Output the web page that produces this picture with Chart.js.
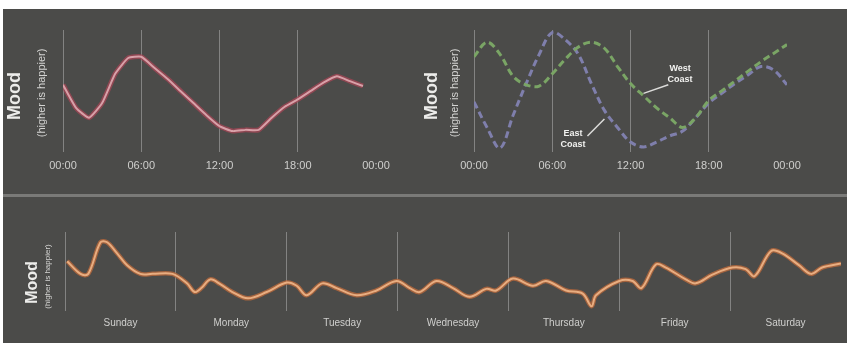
<!DOCTYPE html>
<html>
<head>
<meta charset="utf-8">
<script src="https://cdn.jsdelivr.net/npm/chart.js@4.4.1/dist/chart.umd.min.js"></script>
<style>
    body { margin: 0; width: 847px; height: 343px; background: #ffffff; overflow: hidden; position: relative; }
    #panel { position: absolute; left: 3px; top: 9px; width: 844px; height: 334px; background: #4b4b49; }
    #sep { position: absolute; left: 3px; top: 194px; width: 844px; height: 3px; background: #7a7a78; }
    canvas { position: absolute; }
    #dayChart { left: 3px; top: 9px; }
    #coastChart { left: 420px; top: 9px; }
    #weekChart { left: 3px; top: 197px; }
</style>
</head>
<body>
<div id="panel"></div>
<div id="sep"></div>
<canvas id="dayChart" width="417" height="184"></canvas>
<canvas id="coastChart" width="427" height="184"></canvas>
<canvas id="weekChart" width="844" height="146"></canvas>

<script>
// hours of the day (top panels)
const hours = [0, 1, 2, 3, 4, 5, 6, 7, 8, 9, 10, 11, 12, 13, 14, 15, 16, 17, 18, 19, 20, 21, 22, 23];
const moodAll = [55, 36, 28, 40, 64, 77, 78, 69, 60, 50, 40, 30, 21, 17, 18, 18, 28, 37, 43, 50, 57, 62, 58, 54];

const coastHours = [0, 1, 2, 3, 4, 5, 6, 7, 8, 9, 10, 11, 12, 13, 14, 15, 16, 17, 18, 19, 20, 21, 22, 23, 24];
const westCoast = [78, 90, 80, 62, 55, 54, 64, 76, 86, 90, 85, 70, 56, 46, 36, 28, 20, 28, 42, 50, 58, 66, 74, 81, 88];
const eastCoast = [41, 20, 3, 30, 56, 80, 98, 92, 80, 56, 34, 20, 8, 4, 8, 13, 17, 28, 40, 48, 56, 63, 70, 67, 55];

const hourTicks = [0, 6, 12, 18, 24];
const hourLabels = ['00:00', '06:00', '12:00', '18:00', '00:00'];

// week panel, x in days from sunday 00:00
const weekPos = [0.02, 0.14, 0.21, 0.32, 0.38, 0.47, 0.56, 0.68, 0.79, 0.97,
    1.10, 1.17, 1.23, 1.31, 1.40, 1.51, 1.65, 1.82, 2.00, 2.09,
    2.18, 2.32, 2.45, 2.63, 2.81, 2.99, 3.11, 3.20, 3.35, 3.50,
    3.65, 3.80, 3.89, 4.04, 4.22, 4.34, 4.52, 4.67, 4.75, 4.79,
    5.00, 5.12, 5.20, 5.33, 5.42, 5.60, 5.69, 5.84, 6.02, 6.14,
    6.22, 6.37, 6.47, 6.62, 6.73, 6.83, 7.00];
const weekMood = [63, 47, 47, 87, 87, 73, 58, 47, 47, 47,
    35, 24, 29, 40, 34, 24, 16, 24, 36, 32,
    20, 35, 29, 20, 26, 38, 29, 24, 38, 29,
    18, 28, 26, 41, 32, 38, 26, 22, 6, 20,
    38, 38, 29, 59, 55, 40, 35, 46, 55, 53,
    44, 76, 73, 58, 47, 55, 60];
const days = ['Sunday', 'Monday', 'Tuesday', 'Wednesday', 'Thursday', 'Friday', 'Saturday'];

// labels for the coast lines: [text, hour, mood]
const coastNotes = [['West', 15.8, 68], ['Coast', 15.8, 59], ['East', 7.6, 15], ['Coast', 7.6, 6]];
const coastPointers = [[14.9, 55, 13.0, 48], [8.7, 13, 10.0, 27]];

const fontFam = '"Liberation Sans", Arial, sans-serif';
const gridColor = 'rgba(200, 200, 200, 0.45)';
const tickColor = '#cfcfcd';

function pts(xs, ys) {
    return xs.map((x, i) => ({ x: x, y: ys[i] }));
}

const moodTitle = {
    id: 'moodTitle',
    afterDraw(chart, args, opts) {
        const ctx = chart.ctx;
        const area = chart.chartArea;
        const mid = (area.top + area.bottom) / 2;
        ctx.save();
        ctx.textAlign = 'center';
        ctx.textBaseline = 'middle';
        ctx.fillStyle = '#ececea';
        ctx.translate(opts.x1, mid + opts.dy1);
        ctx.rotate(-Math.PI / 2);
        ctx.font = 'bold ' + opts.size1 + 'px ' + fontFam;
        ctx.fillText('Mood', 0, 0);
        ctx.restore();

        ctx.save();
        ctx.textAlign = 'center';
        ctx.textBaseline = 'middle';
        ctx.fillStyle = '#d4d4d2';
        ctx.translate(opts.x2, mid + opts.dy2);
        ctx.rotate(-Math.PI / 2);
        ctx.font = opts.size2 + 'px ' + fontFam;
        ctx.fillText('(higher is happier)', 0, 0);
        ctx.restore();
    }
};

const coastLabels = {
    id: 'coastLabels',
    afterDatasetsDraw(chart) {
        const ctx = chart.ctx;
        const xs = chart.scales.x;
        const ys = chart.scales.y;
        ctx.save();
        ctx.strokeStyle = '#dcdcda';
        ctx.lineWidth = 1.5;
        coastPointers.forEach(p => {
            ctx.beginPath();
            ctx.moveTo(xs.getPixelForValue(p[0]), ys.getPixelForValue(p[1]));
            ctx.lineTo(xs.getPixelForValue(p[2]), ys.getPixelForValue(p[3]));
            ctx.stroke();
        });
        ctx.fillStyle = '#f2f2f0';
        ctx.font = 'bold 9px ' + fontFam;
        ctx.textAlign = 'center';
        ctx.textBaseline = 'middle';
        coastNotes.forEach(n => {
            ctx.fillText(n[0], xs.getPixelForValue(n[1]), ys.getPixelForValue(n[2]));
        });
        ctx.restore();
    }
};

function hourAxis() {
    return {
        type: 'linear',
        min: 0,
        max: 24,
        afterBuildTicks: scale => { scale.ticks = hourTicks.map(v => ({ value: v })); },
        ticks: {
            color: tickColor,
            font: { family: fontFam, size: 11 },
            padding: 8,
            maxRotation: 0,
            callback: (v) => hourLabels[hourTicks.indexOf(v)]
        },
        grid: {
            drawTicks: false,
            lineWidth: 1,
            color: c => (c.tick && c.tick.value === 24) ? 'rgba(0,0,0,0)' : gridColor
        },
        border: { display: false }
    };
}

function baseOptions(pad, xAxis, titleOpts) {
    return {
        responsive: false,
        animation: false,
        devicePixelRatio: 1,
        layout: { padding: pad },
        elements: { point: { radius: 0 } },
        scales: {
            x: xAxis,
            y: { display: false, min: 0, max: 100 }
        },
        plugins: {
            legend: { display: false },
            tooltip: { enabled: false },
            moodTitle: titleOpts
        }
    };
}

new Chart(document.getElementById('dayChart').getContext('2d'), {
    type: 'line',
    data: {
        datasets: [
            {
                data: pts(hours, moodAll),
                borderColor: '#d8a0a8',
                borderWidth: 2,
                tension: 0.15
            },
            {
                data: pts(hours, moodAll),
                borderColor: 'rgba(165, 70, 85, 0.75)',
                borderWidth: 5,
                tension: 0.15
            }
        ]
    },
    options: baseOptions({ left: 60, right: 44, top: 21, bottom: 12 }, hourAxis(),
        { x1: 12, dy1: 5, size1: 18, x2: 39, dy2: 2, size2: 11 }),
    plugins: [moodTitle]
});

new Chart(document.getElementById('coastChart').getContext('2d'), {
    type: 'line',
    data: {
        datasets: [
            {
                label: 'West Coast',
                data: pts(coastHours, westCoast),
                borderColor: '#7aa565',
                borderWidth: 3,
                borderDash: [7, 4],
                tension: 0.35
            },
            {
                label: 'East Coast',
                data: pts(coastHours, eastCoast),
                borderColor: '#7f7fac',
                borderWidth: 3,
                borderDash: [7, 4],
                tension: 0.35
            }
        ]
    },
    options: baseOptions({ left: 54, right: 60, top: 21, bottom: 12 }, hourAxis(),
        { x1: 12, dy1: 5, size1: 18, x2: 35, dy2: 2, size2: 11 }),
    plugins: [moodTitle, coastLabels]
});

const weekTicks = [0, 0.5, 1, 1.5, 2, 2.5, 3, 3.5, 4, 4.5, 5, 5.5, 6, 6.5, 7];

new Chart(document.getElementById('weekChart').getContext('2d'), {
    type: 'line',
    data: {
        datasets: [
            {
                data: pts(weekPos, weekMood),
                borderColor: '#e8ad80',
                borderWidth: 2,
                tension: 0.35
            },
            {
                data: pts(weekPos, weekMood),
                borderColor: 'rgba(185, 105, 60, 0.8)',
                borderWidth: 4.5,
                tension: 0.35
            }
        ]
    },
    options: baseOptions({ left: 62, right: 4, top: 35, bottom: 8 }, {
        type: 'linear',
        min: 0,
        max: 7,
        afterBuildTicks: scale => { scale.ticks = weekTicks.map(v => ({ value: v })); },
        ticks: {
            color: tickColor,
            font: { family: fontFam, size: 10 },
            padding: 6,
            maxRotation: 0,
            autoSkip: false,
            callback: (v) => Number.isInteger(v) ? '' : days[Math.floor(v)]
        },
        grid: {
            drawTicks: false,
            lineWidth: 1,
            color: c => (c.tick && Number.isInteger(c.tick.value) && c.tick.value < 7) ? gridColor : 'rgba(0,0,0,0)'
        },
        border: { display: false }
    }, { x1: 30, dy1: 11, size1: 16, x2: 45, dy2: 5, size2: 8 }),
    plugins: [moodTitle]
});
</script>
</body>
</html>
